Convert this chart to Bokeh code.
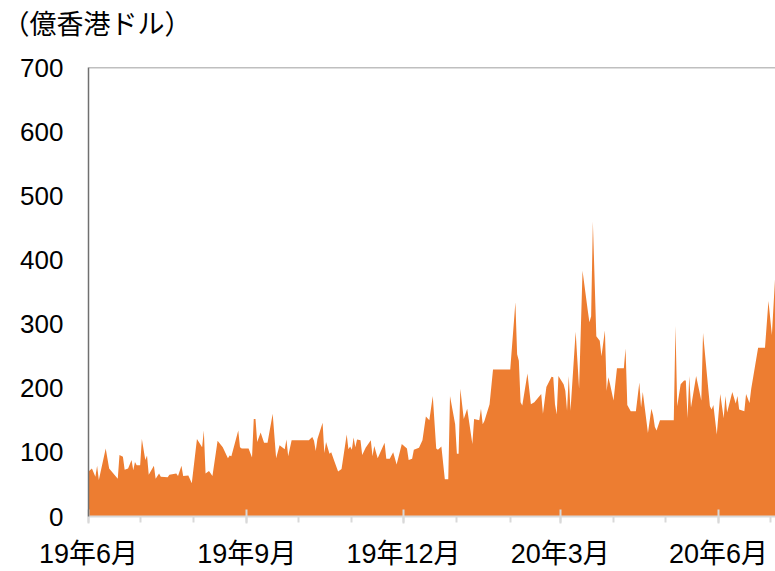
import pandas as pd
from bokeh.plotting import figure
from bokeh.models import Range1d, FixedTicker, Span, Title, ColumnDataSource
from bokeh.embed import file_html
from bokeh.resources import INLINE

# ---- data (億香港ドル) ----
dates = [
    "2019-06-01", "2019-06-03", "2019-06-05", "2019-06-06", "2019-06-07", "2019-06-11",
    "2019-06-13", "2019-06-18", "2019-06-19", "2019-06-21", "2019-06-22", "2019-06-24",
    "2019-06-26", "2019-06-27", "2019-06-28", "2019-06-29", "2019-07-01", "2019-07-02",
    "2019-07-04", "2019-07-05", "2019-07-06", "2019-07-09", "2019-07-10", "2019-07-12",
    "2019-07-13", "2019-07-17", "2019-07-18", "2019-07-22", "2019-07-23", "2019-07-25",
    "2019-07-26", "2019-07-29", "2019-07-31", "2019-08-03", "2019-08-06", "2019-08-07",
    "2019-08-08", "2019-08-10", "2019-08-12", "2019-08-15", "2019-08-18", "2019-08-21",
    "2019-08-22", "2019-08-23", "2019-08-27", "2019-08-28", "2019-08-29", "2019-09-02",
    "2019-09-04", "2019-09-05", "2019-09-06", "2019-09-07", "2019-09-09", "2019-09-11",
    "2019-09-13", "2019-09-16", "2019-09-18", "2019-09-20", "2019-09-23", "2019-09-24",
    "2019-09-25", "2019-09-27", "2019-10-07", "2019-10-09", "2019-10-10", "2019-10-11",
    "2019-10-12", "2019-10-15", "2019-10-16", "2019-10-17", "2019-10-19", "2019-10-20",
    "2019-10-22", "2019-10-24", "2019-10-26", "2019-10-29", "2019-10-30", "2019-10-31",
    "2019-11-01", "2019-11-02", "2019-11-03", "2019-11-04", "2019-11-06", "2019-11-07",
    "2019-11-09", "2019-11-12", "2019-11-13", "2019-11-14", "2019-11-16", "2019-11-20",
    "2019-11-21", "2019-11-23", "2019-11-25", "2019-11-27", "2019-11-30", "2019-12-03",
    "2019-12-04", "2019-12-06", "2019-12-07", "2019-12-10", "2019-12-12", "2019-12-14",
    "2019-12-16", "2019-12-18", "2019-12-20", "2019-12-21", "2019-12-23", "2019-12-25",
    "2019-12-27", "2019-12-28", "2019-12-31", "2020-01-01", "2020-01-02", "2020-01-03",
    "2020-01-05", "2020-01-07", "2020-01-10", "2020-01-11", "2020-01-14", "2020-01-15",
    "2020-01-16", "2020-01-17", "2020-01-20", "2020-01-22", "2020-02-01", "2020-02-04",
    "2020-02-05", "2020-02-06", "2020-02-07", "2020-02-08", "2020-02-11", "2020-02-13",
    "2020-02-15", "2020-02-19", "2020-02-20", "2020-02-22", "2020-02-25", "2020-02-26",
    "2020-02-27", "2020-02-28", "2020-02-29", "2020-03-03", "2020-03-04", "2020-03-05",
    "2020-03-06", "2020-03-07", "2020-03-10", "2020-03-12", "2020-03-14", "2020-03-17",
    "2020-03-18", "2020-03-19", "2020-03-20", "2020-03-22", "2020-03-24", "2020-03-25",
    "2020-03-27", "2020-03-28", "2020-03-29", "2020-03-30", "2020-04-01", "2020-04-03",
    "2020-04-07", "2020-04-08", "2020-04-09", "2020-04-11", "2020-04-14", "2020-04-16",
    "2020-04-17", "2020-04-18", "2020-04-21", "2020-04-23", "2020-04-24", "2020-04-25",
    "2020-04-26", "2020-04-28", "2020-05-06", "2020-05-07", "2020-05-08", "2020-05-10",
    "2020-05-12", "2020-05-13", "2020-05-14", "2020-05-15", "2020-05-16", "2020-05-19",
    "2020-05-22", "2020-05-23", "2020-05-27", "2020-05-28", "2020-05-29", "2020-05-31",
    "2020-06-02", "2020-06-04", "2020-06-05", "2020-06-06", "2020-06-09", "2020-06-11",
    "2020-06-12", "2020-06-13", "2020-06-16", "2020-06-17", "2020-06-19", "2020-06-20",
    "2020-06-24", "2020-06-28", "2020-06-30", "2020-07-02", "2020-07-04",
]
values = [
    70, 75, 62, 79, 57, 106,
    75, 59, 96, 93, 73, 75,
    88, 72, 85, 80, 80, 121,
    88, 95, 65, 79, 59, 67,
    62, 61, 65, 67, 63, 79,
    63, 64, 52, 121, 108, 134,
    67, 71, 63, 118, 108, 91,
    95, 94, 134, 108, 106, 106,
    92, 152, 152, 116, 131, 115,
    115, 160, 91, 111, 105, 120,
    94, 119, 119, 124, 118, 102,
    121, 146, 99, 116, 98, 100,
    85, 70, 74, 128, 105, 109,
    104, 123, 108, 120, 119, 96,
    107, 119, 94, 110, 91, 115,
    90, 90, 100, 81, 113, 106,
    88, 90, 104, 107, 119, 156,
    150, 188, 106, 104, 109, 58,
    58, 188, 144, 98, 98, 199,
    152, 168, 113, 152, 150, 168,
    144, 149, 175, 229, 229, 334,
    253, 243, 178, 173, 223, 175,
    178, 191, 160, 202, 218, 217,
    175, 159, 219, 206, 196, 165,
    219, 165, 288, 199, 383, 322,
    303, 312, 460, 281, 274, 250,
    290, 196, 217, 206, 181, 231,
    231, 262, 174, 164, 164, 209,
    170, 194, 130, 168, 158, 140,
    134, 150, 150, 297, 172, 206,
    212, 212, 153, 219, 170, 219,
    181, 286, 172, 167, 174, 128,
    191, 153, 188, 162, 194, 176,
    188, 167, 164, 191, 177, 199,
    263, 263, 336, 283, 379,
]
quarter_dates = ["2019-06-01", "2019-09-01", "2019-12-01", "2020-03-01", "2020-06-01"]
quarter_labels = ["19年6月", "19年9月", "19年12月", "20年3月", "20年6月"]
y_ticks = [0, 100, 200, 300, 400, 500, 600, 700]
y_unit = "（億香港ドル）"

start = pd.Timestamp("2019-06-01")
xd = [int(v) for v in (pd.to_datetime(dates) - start).days]
month_days = [int((m - start).days) for m in pd.date_range("2019-06-01", "2020-07-01", freq="MS")]
quarter_days = [int((pd.Timestamp(d) - start).days) for d in quarter_dates]

src = ColumnDataSource(data=dict(x=xd, v=values))

CJK = "Liberation Sans, Noto Sans CJK JP"

p = figure(width=775, height=571, output_backend="svg", toolbar_location=None,
           x_range=Range1d(0, 399.1), y_range=Range1d(0, 700),
           min_border_left=88, min_border_right=0, min_border_top=67, min_border_bottom=50)
p.outline_line_color = None
p.grid.visible = False
p.background_fill_color = "white"

p.varea(x="x", y1=0, y2="v", source=src, fill_color="#ED7D31")

# y axis
ya = p.yaxis[0]
ya.ticker = FixedTicker(ticks=y_ticks)
ya.major_tick_in = 0
ya.major_tick_out = 0
ya.minor_tick_in = 0
ya.minor_tick_out = 0
ya.axis_line_color = "#707070"
ya.axis_line_width = 1.5
ya.major_label_text_font = "Liberation Sans"
ya.major_label_text_font_size = "26px"
ya.major_label_text_color = "#000000"
ya.major_label_standoff = 25

# x axis
xa = p.xaxis[0]
xa.ticker = FixedTicker(ticks=quarter_days, minor_ticks=month_days)
xa.major_label_overrides = {d: lab for d, lab in zip(quarter_days, quarter_labels)}
xa.axis_line_color = "#D9D9D9"
xa.axis_line_width = 2
xa.major_tick_line_color = "#D9D9D9"
xa.major_tick_line_width = 2
xa.minor_tick_line_color = "#D9D9D9"
xa.minor_tick_line_width = 2
xa.major_tick_in = 7
xa.major_tick_out = 7
xa.minor_tick_in = 0
xa.minor_tick_out = 6
xa.major_label_text_font = CJK
xa.major_label_text_font_size = "27px"
xa.major_label_text_color = "#000000"
xa.major_label_standoff = 15

# top border line
p.add_layout(Span(location=700, dimension="width", line_color="#808080", line_width=1.5))

# spacer between frame and unit label, then the unit label above it
p.add_layout(Title(text=" ", text_font_size="10px", standoff=13), "above")
p.add_layout(Title(text=y_unit, align="left", offset=-86, standoff=0,
                   text_font=CJK, text_font_size="27px", text_font_style="normal",
                   text_color="#000000", vertical_align="top"), "above")

open("out.html", "w").write(file_html(p, INLINE))
